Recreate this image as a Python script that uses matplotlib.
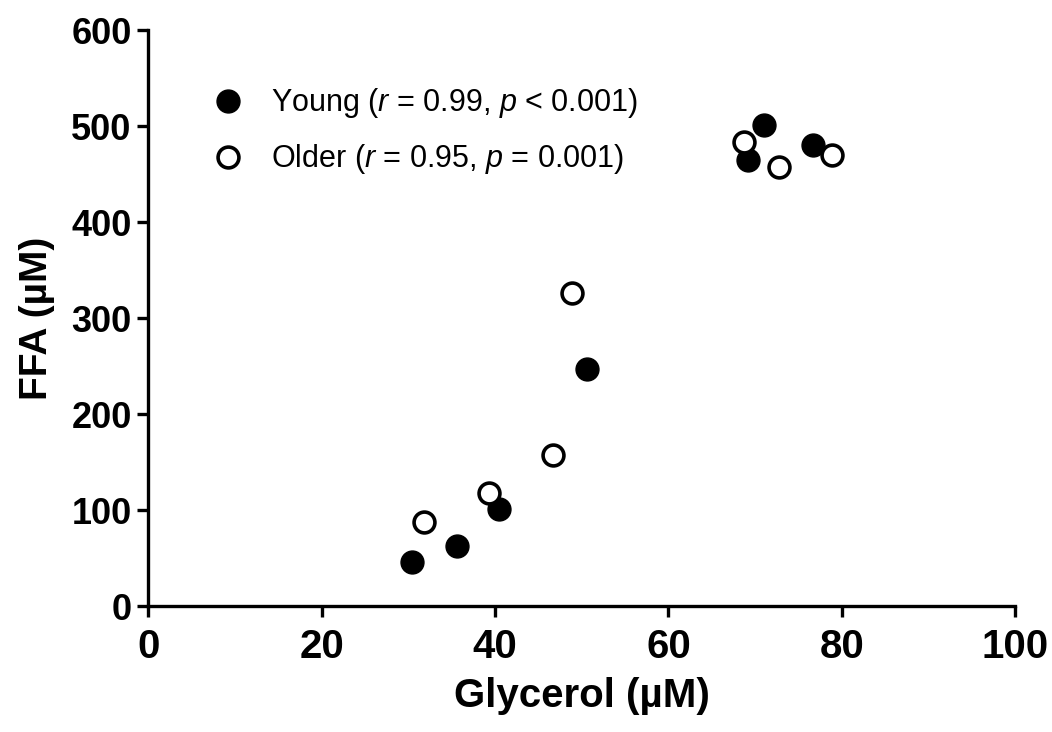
import matplotlib
matplotlib.use("Agg")
import matplotlib.pyplot as plt

plt.rcParams['font.family'] = ['Liberation Sans', 'DejaVu Sans']
plt.rcParams['mathtext.fontset'] = 'custom'
plt.rcParams['mathtext.rm'] = 'Liberation Sans'
plt.rcParams['mathtext.it'] = 'Liberation Sans:italic'

# glycerol (x) and FFA (y)
young_glycerol = [30.4, 35.6, 40.5, 50.6, 69.2, 71.0, 76.7]
young_ffa = [46, 63, 101, 247, 465, 501, 480]
older_glycerol = [31.75, 39.3, 46.7, 48.9, 68.7, 72.8, 78.9]
older_ffa = [88, 118, 157, 326, 483, 457, 470]

young_label = r'Young ($r$ = 0.99, $p$ < 0.001)'
older_label = r'Older ($r$ = 0.95, $p$ = 0.001)'

fig = plt.figure(figsize=(10.52, 7.32), dpi=100)
ax = fig.add_axes([0.141, 0.172, 0.824, 0.787])

ax.plot(young_glycerol, young_ffa, 'o', ms=16.5, mfc='black', mec='black',
        mew=1, clip_on=False, label=young_label, zorder=3)
ax.plot(older_glycerol, older_ffa, 'o', ms=15, mfc='white', mec='black',
        mew=2.6, clip_on=False, label=older_label, zorder=3)

ax.set_xlim(0, 100)
ax.set_ylim(0, 600)
ax.set_xticks([0, 20, 40, 60, 80, 100])
ax.set_yticks([0, 100, 200, 300, 400, 500, 600])

for s in ['top', 'right']:
    ax.spines[s].set_visible(False)
for s in ['left', 'bottom']:
    ax.spines[s].set_linewidth(2.4)

ax.tick_params(width=2.4, length=8)
ax.tick_params(axis='x', labelsize=29, pad=8)
ax.tick_params(axis='y', labelsize=26, pad=4)
for lab in ax.get_xticklabels() + ax.get_yticklabels():
    lab.set_fontweight('bold')

ax.set_xlabel('Glycerol (µM)', fontsize=29, fontweight='bold', labelpad=8)
ax.set_ylabel('FFA (µM)', fontsize=28, fontweight='bold', labelpad=12)

leg = ax.legend(loc='upper left', bbox_to_anchor=(0.043, 0.95), frameon=False,
                fontsize=22, handletextpad=0.9, labelspacing=0.72,
                markerscale=1.0, handlelength=1.0)

fig.savefig('out.png', dpi=100)
